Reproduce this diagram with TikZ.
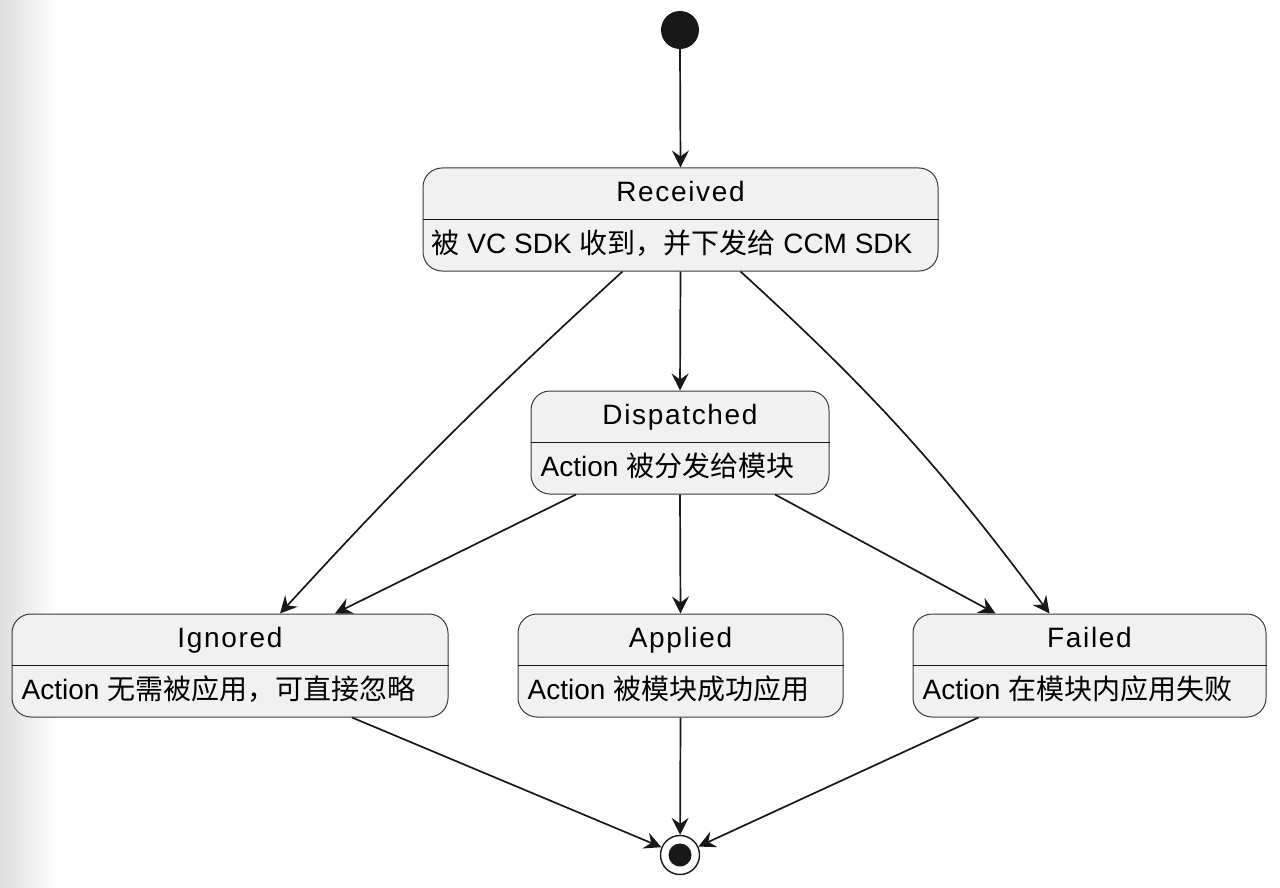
\documentclass[tikz,border=0pt]{standalone}
\usepackage{fontspec}
\setmainfont{Liberation Sans}
\newfontfamily\titlefont[LetterSpace=6]{Liberation Sans}
\newfontfamily\cjk{Noto Sans CJK SC}
\usetikzlibrary{arrows.meta}
\definecolor{boxfill}{HTML}{F1F1F1}
\definecolor{ink}{HTML}{181818}
\definecolor{boxline}{HTML}{3A3A3A}
\begin{document}
\begin{tikzpicture}[x=1pt,y=-1pt,
  statebox/.style={draw=boxline, line width=1pt, fill=boxfill, rounded corners=19pt, inner sep=0pt, minimum height=103pt},
  divider/.style={draw=ink, line width=0.9pt},
  titletext/.style={font=\titlefont\fontsize{28}{32}\selectfont, text=black, text height=21pt, text depth=5pt, inner sep=0pt},
  bodytext/.style={font=\fontsize{28}{32}\selectfont, text=black, text height=21pt, text depth=5pt, inner sep=0pt, anchor=west},
  conn/.style={draw=ink, line width=1.7pt, -{Stealth[length=17pt,width=17pt,inset=6pt]}}]
\useasboundingbox (0,0) rectangle (1280,888);
\shade[left color=black!13, right color=white] (0,0) rectangle (58,888);

% start / end
\node[circle, fill=ink, minimum size=38pt, inner sep=0pt] (start) at (680,30) {};
\node[circle, draw=ink, line width=1.4pt, fill=white, minimum size=39pt, inner sep=0pt] (end) at (680,855) {};
\node[circle, fill=ink, minimum size=23pt, inner sep=0pt] (endin) at (end.center) {};

% states
\node[statebox, minimum width=515pt] (rec) at (680.5,219.5) {};
\draw[divider] (rec.west) -- (rec.east);
\node[titletext] (rect) at ([yshift=26pt]rec.center) {Received};
\node[bodytext] (recb) at ([xshift=9pt,yshift=-26pt]rec.west) {{\cjk 被} VC SDK {\cjk 收到，并下发给} CCM SDK};

\node[statebox, minimum width=298pt] (disp) at (680,442.5) {};
\draw[divider] (disp.west) -- (disp.east);
\node[titletext] (dispt) at ([yshift=26pt]disp.center) {Dispatched};
\node[bodytext] (dispb) at ([xshift=10pt,yshift=-26pt]disp.west) {Action {\cjk 被分发给模块}};

\node[statebox, minimum width=436pt] (ign) at (230,665.5) {};
\draw[divider] (ign.west) -- (ign.east);
\node[titletext] (ignt) at ([yshift=26pt]ign.center) {Ignored};
\node[bodytext] (ignb) at ([xshift=10pt,yshift=-26pt]ign.west) {Action {\cjk 无需被应用，可直接忽略}};

\node[statebox, minimum width=325pt] (app) at (680.5,665.5) {};
\draw[divider] (app.west) -- (app.east);
\node[titletext] (appt) at ([yshift=26pt]app.center) {Applied};
\node[bodytext] (appb) at ([xshift=10pt,yshift=-26pt]app.west) {Action {\cjk 被模块成功应用}};

\node[statebox, minimum width=353pt] (fail) at (1089.5,665.5) {};
\draw[divider] (fail.west) -- (fail.east);
\node[titletext] (failt) at ([yshift=26pt]fail.center) {Failed};
\node[bodytext] (failb) at ([xshift=10pt,yshift=-26pt]fail.west) {Action {\cjk 在模块内应用失败}};

% connectors
\draw[conn] (start.south) -- (rec.north);
\draw[conn] ([xshift=-58pt]rec.south) to[bend right=2.5] ([xshift=50pt]ign.north);
\draw[conn] (rec.south) -- (disp.north);
\draw[conn] ([xshift=60pt]rec.south) to[bend left=5.5] ([xshift=-40pt]fail.north);
\draw[conn] ([xshift=-104pt]disp.south) -- ([xshift=105pt]ign.north);
\draw[conn] (disp.south) -- (app.north);
\draw[conn] ([xshift=95pt]disp.south) -- ([xshift=-94pt]fail.north);
\draw[conn] ([xshift=122pt]ign.south) -- (end);
\draw[conn] (app.south) -- (end);
\draw[conn] ([xshift=-111pt]fail.south) -- (end);
\end{tikzpicture}
\end{document}
